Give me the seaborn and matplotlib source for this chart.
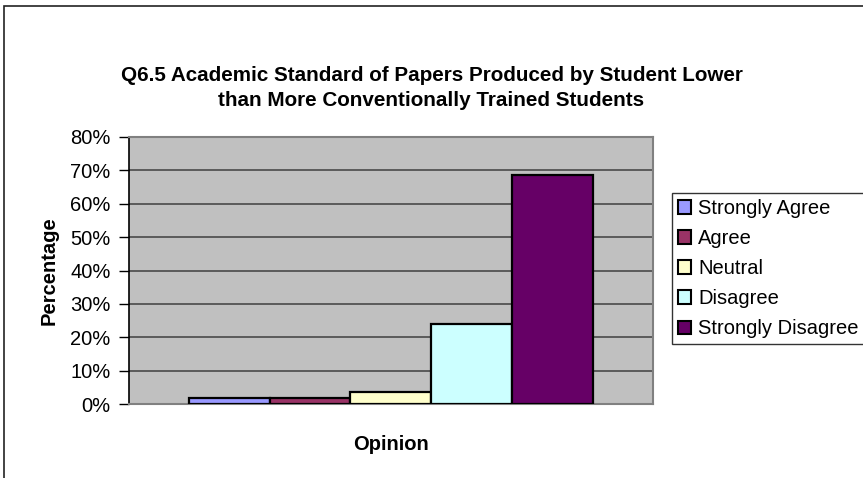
import matplotlib
matplotlib.use("Agg")
import matplotlib.pyplot as plt
from matplotlib.patches import Rectangle, Patch
from matplotlib.ticker import FuncFormatter
import seaborn as sns
import pandas as pd

# Survey responses (percent of respondents)
responses = ["Strongly Agree", "Agree", "Neutral", "Disagree", "Strongly Disagree"]
percentages = [1.9, 1.9, 3.6, 24.0, 68.6]
colors = ["#9999FF", "#993366", "#FFFFCC", "#CCFFFF", "#660066"]
y_ticks = [0, 10, 20, 30, 40, 50, 60, 70, 80]

title = "Q6.5 Academic Standard of Papers Produced by Student Lower\nthan More Conventionally Trained Students"

sns.set_theme(style="white")
plt.rcParams["font.family"] = ["Liberation Sans", "DejaVu Sans"]
plt.rcParams.update({"text.color": "black", "axes.labelcolor": "black",
                     "xtick.color": "black", "ytick.color": "black"})

W, H = 863, 478
fig = plt.figure(figsize=(W / 100, H / 100), dpi=100)
fig.patch.set_facecolor("white")

# chart-area border
fig.add_artist(Rectangle((4 / W, -0.05), 1.1, 1 - 6 / H + 0.05, transform=fig.transFigure,
                         fill=False, edgecolor="#222222", linewidth=1.2))

ax = fig.add_axes([128.5 / W, 1 - 404 / H, (653 - 128.5) / W, (404 - 137) / H])
ax.set_facecolor("#C0C0C0")

df = pd.DataFrame({"Opinion": [""] * len(responses), "Response": responses, "Percent": percentages})
palette = dict(zip(responses, colors))
sns.barplot(data=df, x="Opinion", y="Percent", hue="Response", hue_order=responses,
            palette=palette, width=0.77, edgecolor="black", linewidth=1.6,
            saturation=1, legend=False, ax=ax, zorder=3)

ax.set_ylim(0, 80)
ax.set_xlim(-0.5, 0.5)
ax.set_yticks(y_ticks)
ax.yaxis.set_major_formatter(FuncFormatter(lambda v, p: f"{v:.0f}%"))
ax.set_xticks([])
ax.grid(axis="y", color="#404040", linewidth=1.1, zorder=1)
ax.set_axisbelow(True)
ax.tick_params(axis="y", which="major", direction="out", length=7, width=1,
               color="black", labelsize=14.5, pad=6, left=True)

for side in ["top", "right", "bottom"]:
    ax.spines[side].set_color("#808080")
    ax.spines[side].set_linewidth(1.5)
ax.spines["left"].set_color("black")
ax.spines["left"].set_linewidth(1.2)

ax.set_ylabel("Percentage", fontsize=14.5, fontweight="bold", labelpad=8)
ax.set_xlabel("Opinion", fontsize=14.5, fontweight="bold", labelpad=22)

fig.text(431.5 / W, 1 - 88 / H, title, ha="center", va="center", fontsize=14.9,
         fontweight="bold", linespacing=1.4)

handles = [Patch(facecolor=c, edgecolor="black", linewidth=1.5) for c in colors]
leg = fig.legend(handles, responses, loc="upper left", bbox_to_anchor=(672 / W, 1 - 193 / H),
                 bbox_transform=fig.transFigure, frameon=True, fancybox=False,
                 fontsize=14.5, handlelength=0.65, handleheight=0.65, handletextpad=0.35,
                 labelspacing=0.55, borderpad=0.3, borderaxespad=0)
leg.get_frame().set_edgecolor("black")
leg.get_frame().set_linewidth(1.0)

fig.savefig("out.png", dpi=100, facecolor="white")
